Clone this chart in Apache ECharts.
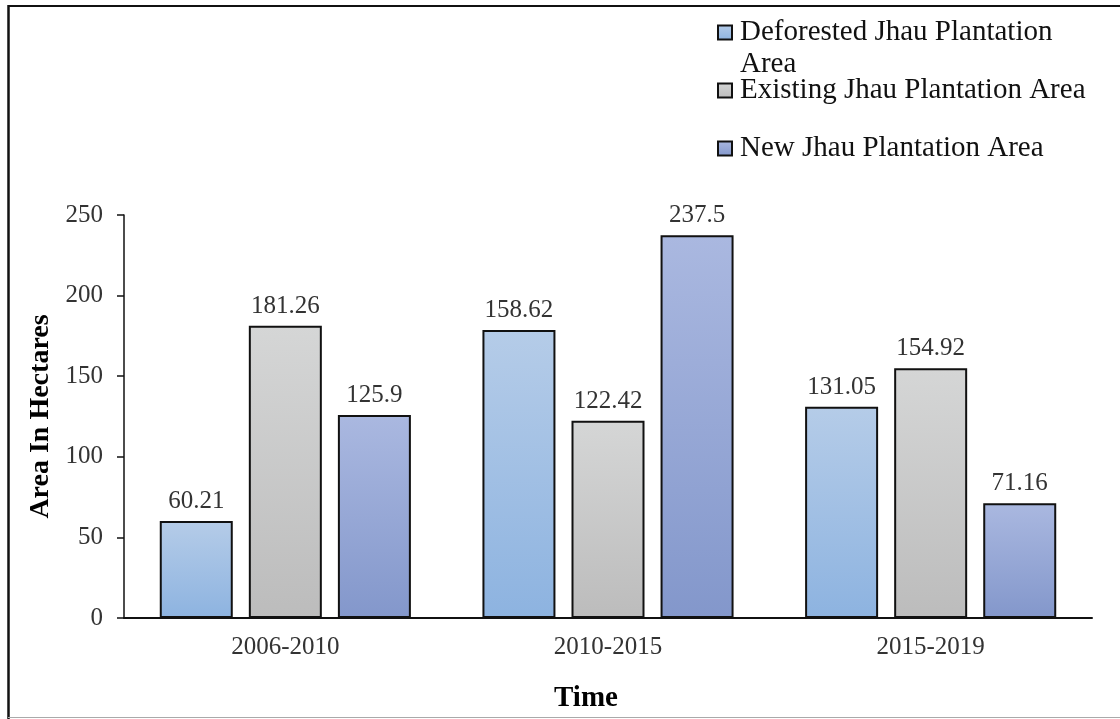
<!DOCTYPE html>
<html>
<head>
<meta charset="utf-8">
<script src="https://cdn.jsdelivr.net/npm/echarts@6/dist/echarts.min.js"></script>
<style>
  html, body { margin: 0; padding: 0; background: #fff; }
  #chart { width: 1120px; height: 719px; }
</style>
</head>
<body>
<div id="chart"></div>
<script>
// data
let periods = ["2006-2010", "2010-2015", "2015-2019"];
let seriesNames = ["Deforested Jhau Plantation Area", "Existing Jhau Plantation Area", "New Jhau Plantation Area"];
// bar heights as drawn
let deforested = [60.21, 178.62, 131.05];
let existing = [181.26, 122.42, 154.92];
let newArea = [125.9, 237.5, 71.16];
// the printed labels (the middle deforested bar is printed as 158.62)
let deforestedLabels = ["60.21", "158.62", "131.05"];
let existingLabels = ["181.26", "122.42", "154.92"];
let newLabels = ["125.9", "237.5", "71.16"];
let yTicks = [0, 50, 100, 150, 200, 250];

const serif = '"Liberation Serif", "Times New Roman", serif';

let grad = (top, bottom) => new echarts.graphic.LinearGradient(0, 0, 0, 1, [
    {offset: 0, color: top},
    {offset: 1, color: bottom}
]);

let fills = [
    grad('#b5cce8', '#8db3e0'),
    grad('#d5d6d6', '#bcbcbc'),
    grad('#aab8e0', '#8397cb')
];

let makeSeries = (i, values, labels) => ({
    name: seriesNames[i],
    type: 'bar',
    data: values,
    barWidth: 73,
    barGap: '22%',
    itemStyle: {color: fills[i], borderColor: '#111', borderWidth: 2},
    label: {
        show: true,
        position: 'top',
        distance: 7,
        fontFamily: serif,
        fontSize: 25,
        color: '#333',
        formatter: (p) => labels[p.dataIndex]
    }
});

let myChart = echarts.init(document.getElementById('chart'), null, {renderer: 'canvas'});

let legendBase = {
    orient: 'vertical',
    left: 712,
    itemWidth: 14,
    itemHeight: 14,
    itemGap: 0,
    icon: 'rect',
    textStyle: {fontFamily: serif, fontSize: 29, color: '#111', padding: [0, 0, 0, 3]},
    selectedMode: false
};

let option = {
    animation: false,
    backgroundColor: '#fff',
    grid: {left: 124, right: 28, top: 215, bottom: 101},
    legend: [
        Object.assign({}, legendBase, {top: 13, data: [seriesNames[0]], formatter: () => 'Deforested Jhau Plantation'}),
        Object.assign({}, legendBase, {top: 71, data: [seriesNames[1]]}),
        Object.assign({}, legendBase, {top: 129, data: [seriesNames[2]]})
    ],
    xAxis: {
        type: 'category',
        data: periods,
        name: 'Time',
        nameLocation: 'middle',
        nameGap: 66,
        nameTextStyle: {fontFamily: serif, fontSize: 29, fontWeight: 'bold', color: '#000', padding: [0, 44, 0, 0]},
        axisLine: {lineStyle: {color: '#111', width: 2}},
        axisTick: {show: false},
        axisLabel: {fontFamily: serif, fontSize: 25, color: '#333', margin: 17}
    },
    yAxis: {
        type: 'value',
        min: yTicks[0],
        max: yTicks[yTicks.length - 1],
        interval: 50,
        name: 'Area In Hectares',
        nameLocation: 'middle',
        nameGap: 67,
        nameTextStyle: {fontFamily: serif, fontSize: 28, fontWeight: 'bold', color: '#000'},
        axisLine: {show: true, lineStyle: {color: '#111', width: 1.5}},
        axisTick: {show: true, length: 7, lineStyle: {color: '#111', width: 1.5}},
        splitLine: {show: false},
        axisLabel: {fontFamily: serif, fontSize: 25, color: '#333', margin: 21}
    },
    graphic: [
        // frame of the figure (cropped on the right)
        {type: 'line', shape: {x1: 8, y1: 6, x2: 1120, y2: 6}, style: {stroke: '#111', lineWidth: 2}},
        {type: 'line', shape: {x1: 8.5, y1: 5, x2: 8.5, y2: 719}, style: {stroke: '#111', lineWidth: 2.5}},
        {type: 'line', shape: {x1: 8, y1: 717.5, x2: 1120, y2: 717.5}, style: {stroke: '#aaa', lineWidth: 1}},
        // second line of the wrapped legend text
        {type: 'text', left: 740, top: 50, style: {text: 'Area', font: '29px ' + serif, fill: '#111'}}
    ],
    series: [
        makeSeries(0, deforested, deforestedLabels),
        makeSeries(1, existing, existingLabels),
        makeSeries(2, newArea, newLabels)
    ]
};

myChart.setOption(option);
</script>
</body>
</html>
